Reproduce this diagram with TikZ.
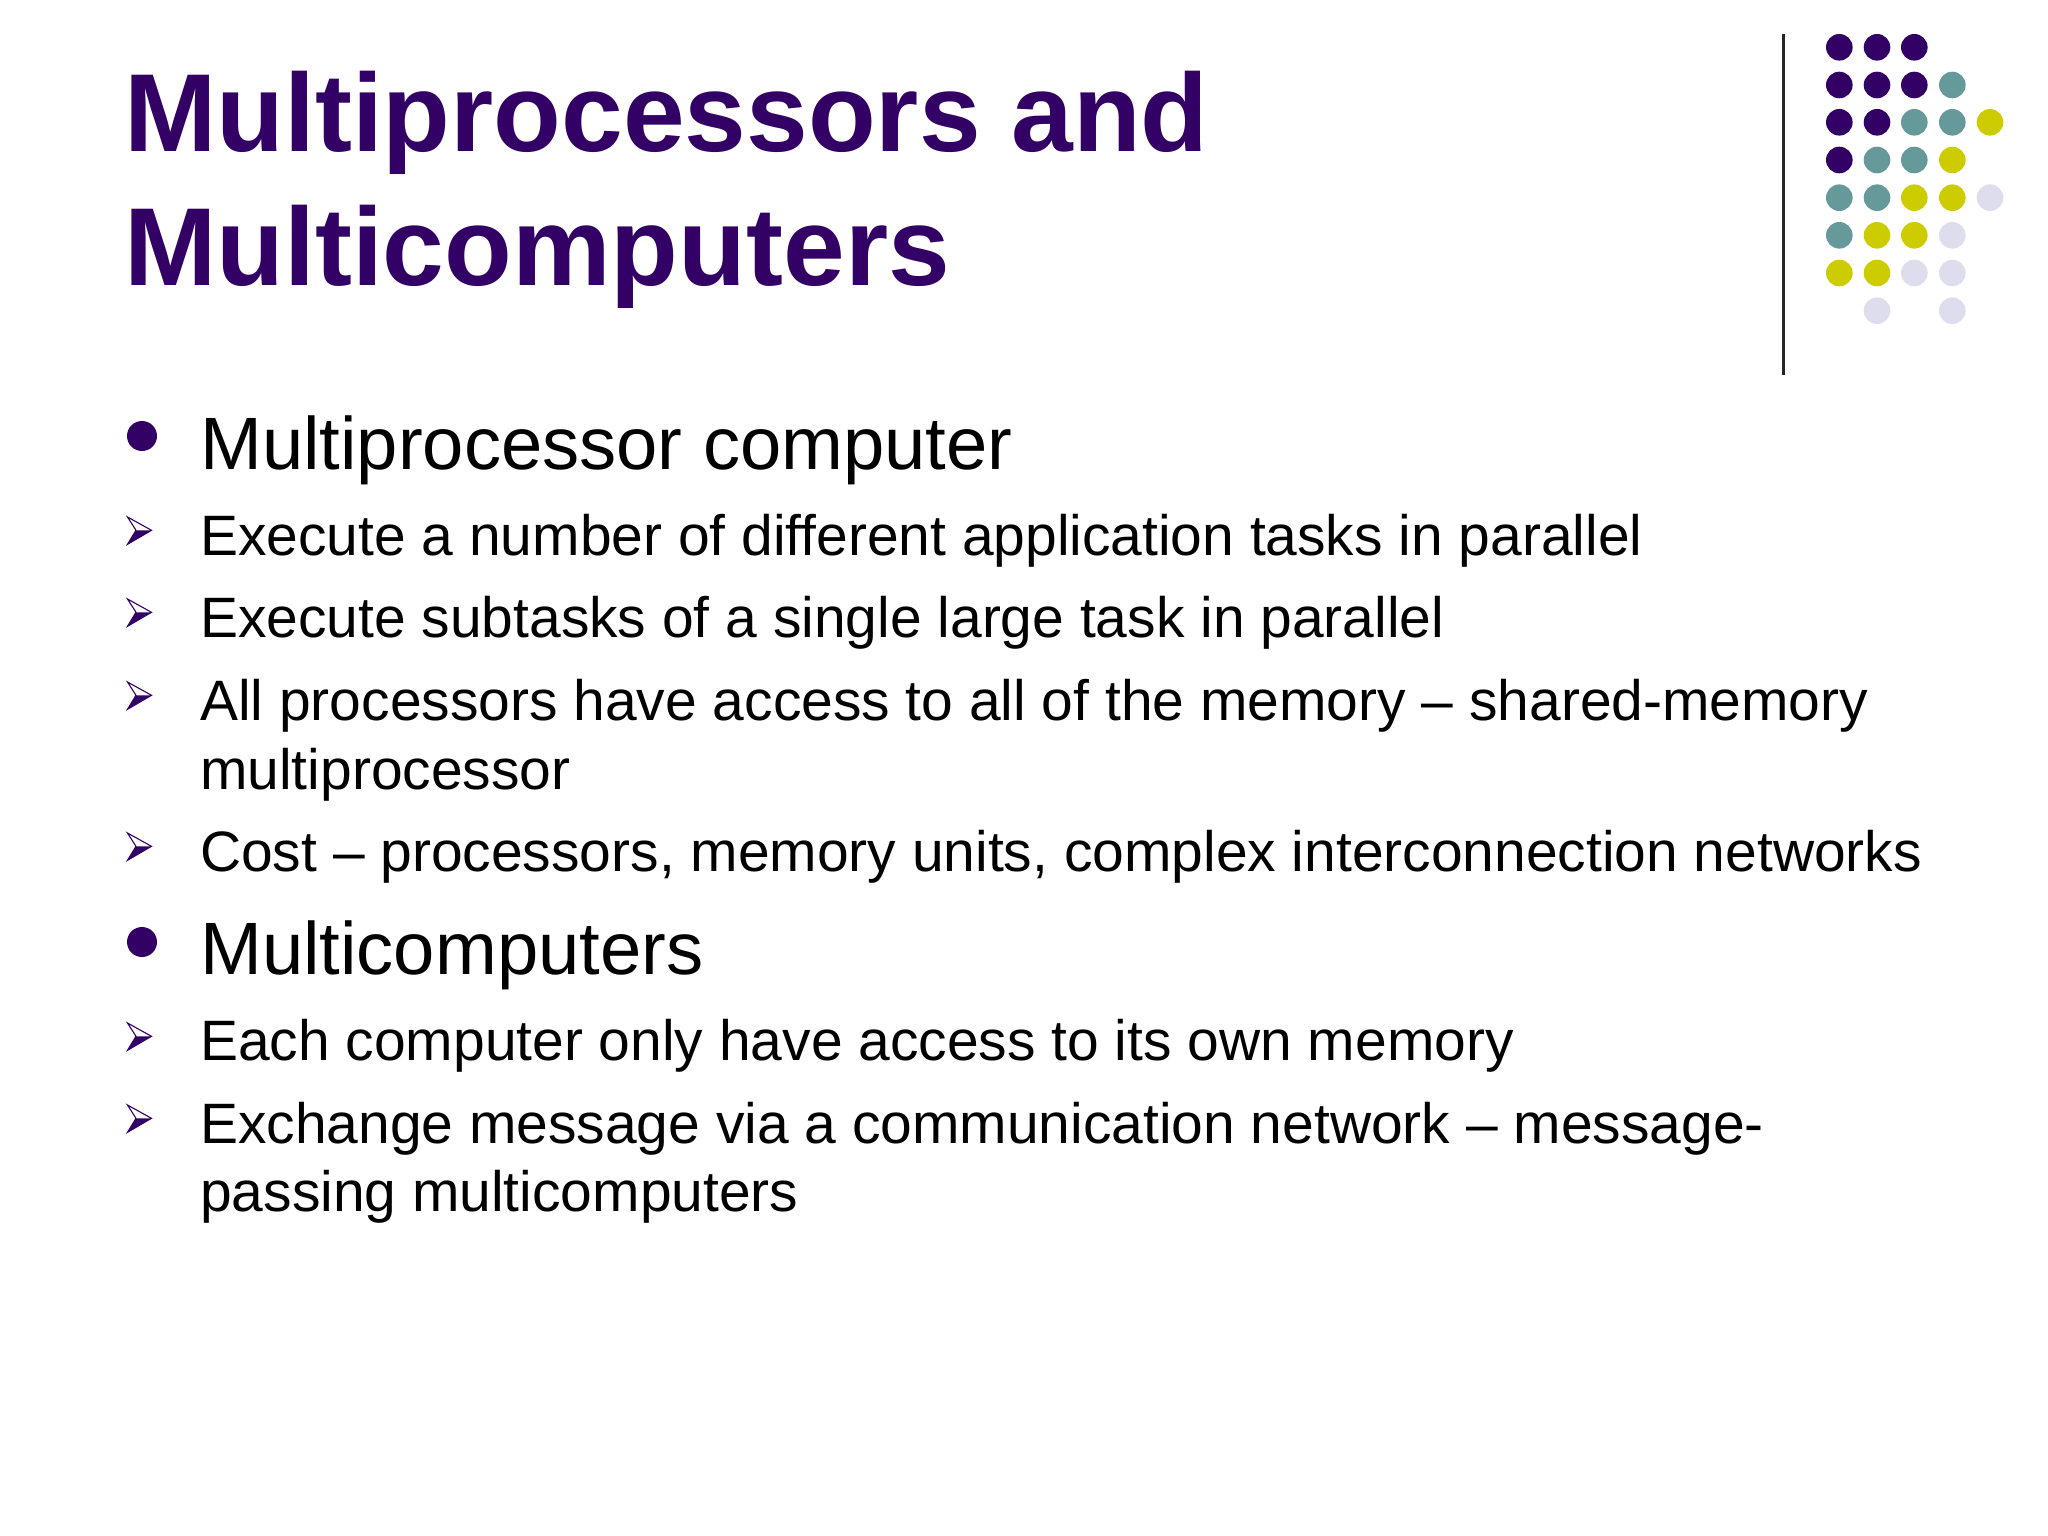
\documentclass[tikz,border=0pt]{standalone}
\usepackage{fontspec}
\setmainfont{Liberation Sans}
\definecolor{deep}{HTML}{330066}
\definecolor{teal1}{HTML}{669999}
\definecolor{olive1}{HTML}{CCCC00}
\definecolor{lav}{HTML}{DDDDEE}
\tikzset{
 titletext/.style={anchor=base west,inner sep=0pt,text=deep,font=\fontsize{110.9}{110.9}\selectfont\bfseries},
 headtext/.style={anchor=base west,inner sep=0pt,text=black,font=\fontsize{74.2}{74.2}\selectfont},
 subtext/.style={anchor=base west,inner sep=0pt,text=black,font=\fontsize{56.95}{56.95}\selectfont},
 dotp/.style={circle,fill=deep,draw=none,minimum size=26.6pt,inner sep=0pt},
 dott/.style={circle,fill=teal1,draw=none,minimum size=26.6pt,inner sep=0pt},
 doto/.style={circle,fill=olive1,draw=none,minimum size=26.6pt,inner sep=0pt},
 dotl/.style={circle,fill=lav,draw=none,minimum size=26.6pt,inner sep=0pt},
 bigbullet/.style={circle,fill=deep,draw=none,minimum size=30pt,inner sep=0pt},
 pics/arrowb/.style={code={
  \fill[deep] (0,27.3) -- (24,13.3) -- (8.5,13.3) -- cycle;
  \draw[deep,line width=1.1pt,line join=miter] (0,0) -- (24,13.3) -- (0,27.3) -- (8.5,13.3) -- cycle;
 }}
}
\begin{document}
\begin{tikzpicture}[x=1pt,y=-1pt]
\useasboundingbox (0,0) rectangle (2048,1536);
\fill[white] (0,0) rectangle (2048,1536);
\node[titletext] (t1) at (124,152) {Multiprocessors and};
\node[titletext] (t2) at (124,285) {Multicomputers};
\coordinate (lt) at (1783.3,34);
\coordinate (lb) at (1783.3,375);
\draw[line width=2.5pt,draw=black!85] (lt) -- (lb);
\foreach \st/\cx/\cy in {
 dotp/1839.3/47.3,dotp/1877/47.3,dotp/1914.3/47.3,
 dotp/1839.3/85,dotp/1877/85,dotp/1914.3/85,dott/1952.3/85,
 dotp/1839.3/122.3,dotp/1877/122.3,dott/1914.3/122.3,dott/1952.3/122.3,doto/1990/122.3,
 dotp/1839.3/160,dott/1877/160,dott/1914.3/160,doto/1952.3/160,
 dott/1839.3/197.7,dott/1877/197.7,doto/1914.3/197.7,doto/1952.3/197.7,dotl/1990/197.7,
 dott/1839.3/235.3,doto/1877/235.3,doto/1914.3/235.3,dotl/1952.3/235.3,
 doto/1839.3/273,doto/1877/273,dotl/1914.3/273,dotl/1952.3/273,
 dotl/1877/310.7,dotl/1952.3/310.7}
 {\node[\st] at (\cx,\cy) {};}
\node[bigbullet] (b1) at (142,436) {};
\node[bigbullet] (b2) at (142,942) {};
\node[headtext] (h1) at (200,469) {Multiprocessor computer};
\node[headtext] (h2) at (200,974) {Multicomputers};
\node[subtext] (s1) at (200,555) {Execute a number of different application tasks in parallel};
\node[subtext] (s2) at (200,637) {Execute subtasks of a single large task in parallel};
\node[subtext] (s3) at (200,720) {All processors have access to all of the memory – shared-memory};
\node[subtext] (s3b) at (200,789) {multiprocessor};
\node[subtext] (s4) at (200,871) {Cost – processors, memory units, complex interconnection networks};
\node[subtext] (s5) at (200,1060) {Each computer only have access to its own memory};
\node[subtext] (s6) at (200,1143) {Exchange message via a communication network – message-};
\node[subtext] (s6b) at (200,1211) {passing multicomputers};
\foreach \ay in {517,599,682,833,1023,1105}
 {\pic at (127.5,\ay) {arrowb};}
\end{tikzpicture}
\end{document}
